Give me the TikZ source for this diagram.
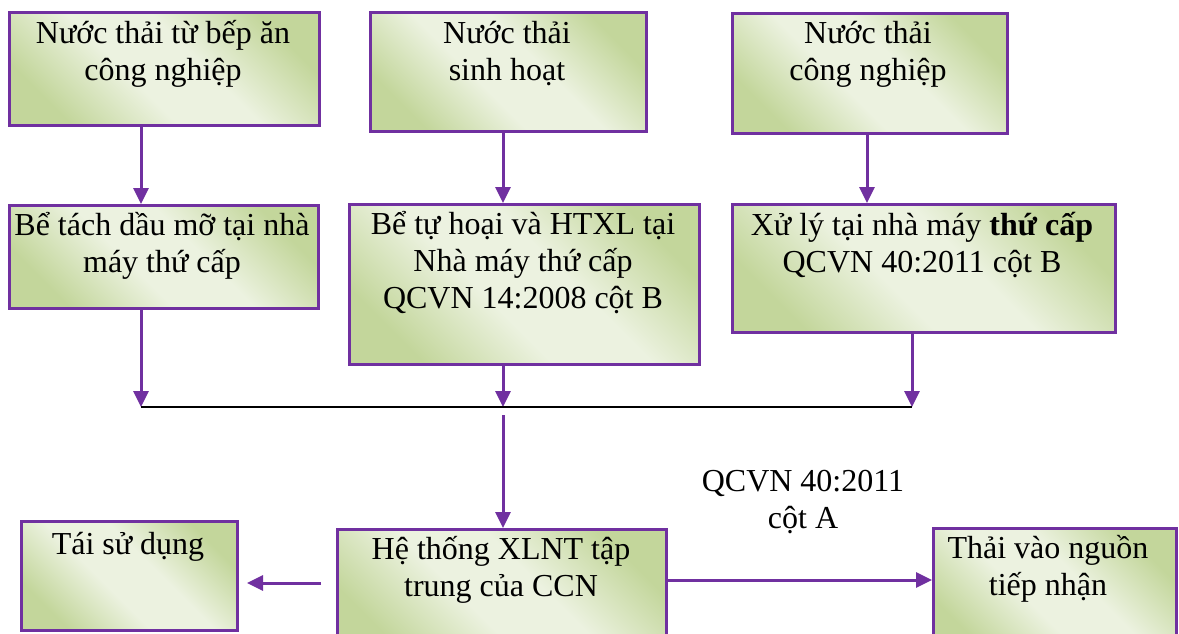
\documentclass[tikz,border=0pt]{standalone}
\usepackage{fontspec}
\setmainfont{Liberation Serif}
\usetikzlibrary{arrows.meta}
\definecolor{frame}{RGB}{112,48,160}
\definecolor{mossdark}{RGB}{195,214,155}
\definecolor{mosslight}{RGB}{236,242,224}
% diagonal fill: darker green on two corners, a wide pale band between them
\pgfdeclareverticalshading{mossband}{100bp}{color(0bp)=(mossdark); color(25bp)=(mossdark);
  color(43bp)=(mosslight); color(57bp)=(mosslight); color(75bp)=(mossdark); color(100bp)=(mossdark)}
\tikzset{
  box/.style={draw=frame, line width=3pt, shading=mossband, shading angle=-45,
    inner sep=0pt, anchor=north west},
  txt/.style={inner sep=0pt, anchor=base, font=\fontsize{32}{37}\selectfont},
  flow/.style={draw=frame, line width=3pt, -{Triangle[length=16pt,width=15pt]}},
  busline/.style={draw=black, line width=2.2pt}
}
\newcommand{\boxtext}[1]{\parbox[t]{400pt}{\centering #1}}
\begin{document}
\begin{tikzpicture}[x=1pt,y=-1pt]
\useasboundingbox (0,0) rectangle (1179,633);

% boxes
\node[box, minimum width=310pt, minimum height=113pt] (b1) at (8,11) {};
\node[box, minimum width=276pt, minimum height=119pt] (b2) at (369,11) {};
\node[box, minimum width=275pt, minimum height=120pt] (b3) at (731,12) {};
\node[box, minimum width=309pt, minimum height=103pt] (b4) at (8,204) {};
\node[box, minimum width=350pt, minimum height=160pt] (b5) at (348,203) {};
\node[box, minimum width=383pt, minimum height=128pt] (b6) at (731,203) {};
\node[box, minimum width=216pt, minimum height=109pt] (b7) at (20,520) {};
\node[box, minimum width=329pt, minimum height=125pt] (b8) at (336,528) {};
\node[box, minimum width=243pt, minimum height=125pt] (b9) at (932,527) {};

% texts
\node[txt] (t1) at (163,43) {\boxtext{Nước thải từ bếp ăn\\công nghiệp}};
\node[txt] (t2) at (507,43) {\boxtext{Nước thải\\sinh hoạt}};
\node[txt] (t3) at (868,43) {\boxtext{Nước thải\\công nghiệp}};
\node[txt] (t4) at (162,235) {\boxtext{Bể tách dầu mỡ tại nhà\\máy thứ cấp}};
\node[txt] (t5) at (523,234) {\boxtext{Bể tự hoại và HTXL tại\\Nhà máy thứ cấp\\QCVN 14:2008 cột B}};
\node[txt] (t6) at (922,235) {\boxtext{Xử lý tại nhà máy \textbf{thứ cấp}\\QCVN 40:2011 cột B}};
\node[txt] (t7) at (128,554) {\boxtext{Tái sử dụng}};
\node[txt] (t8) at (501,559) {\boxtext{Hệ thống XLNT tập\\trung của CCN}};
\node[txt] (t9) at (1048,558) {\boxtext{Thải vào nguồn\\tiếp nhận}};
\node[txt] (lbl) at (803,491) {\boxtext{QCVN 40:2011\\cột A}};

% column positions and junction points
\coordinate (c1) at (141,0);
\coordinate (c2) at (503,0);
\coordinate (c3) at (867,0);
\coordinate (c4) at (912,0);
\coordinate (bus1) at (141,407);
\coordinate (bus2) at (503,407);
\coordinate (bus3) at (912,407);
\coordinate (drop) at (503,415);
\coordinate (back0) at (321,583);
\coordinate (back1) at (247,583);
\coordinate (outrow) at (0,580);

% connectors
\draw[flow] (b1.south -| c1) -- (b4.north -| c1);
\draw[flow] (b2.south -| c2) -- (b5.north -| c2);
\draw[flow] (b3.south -| c3) -- (b6.north -| c3);
\draw[flow] (b4.south -| c1) -- (bus1);
\draw[flow] (b5.south -| c2) -- (bus2);
\draw[flow] (b6.south -| c4) -- (bus3);
\draw[busline] (bus1) -- (bus3);
\draw[flow] (drop) -- (b8.north -| drop);
\draw[flow] (back0) -- (back1);
\draw[flow] (b8.east |- outrow) -- (b9.west |- outrow);
\end{tikzpicture}
\end{document}
